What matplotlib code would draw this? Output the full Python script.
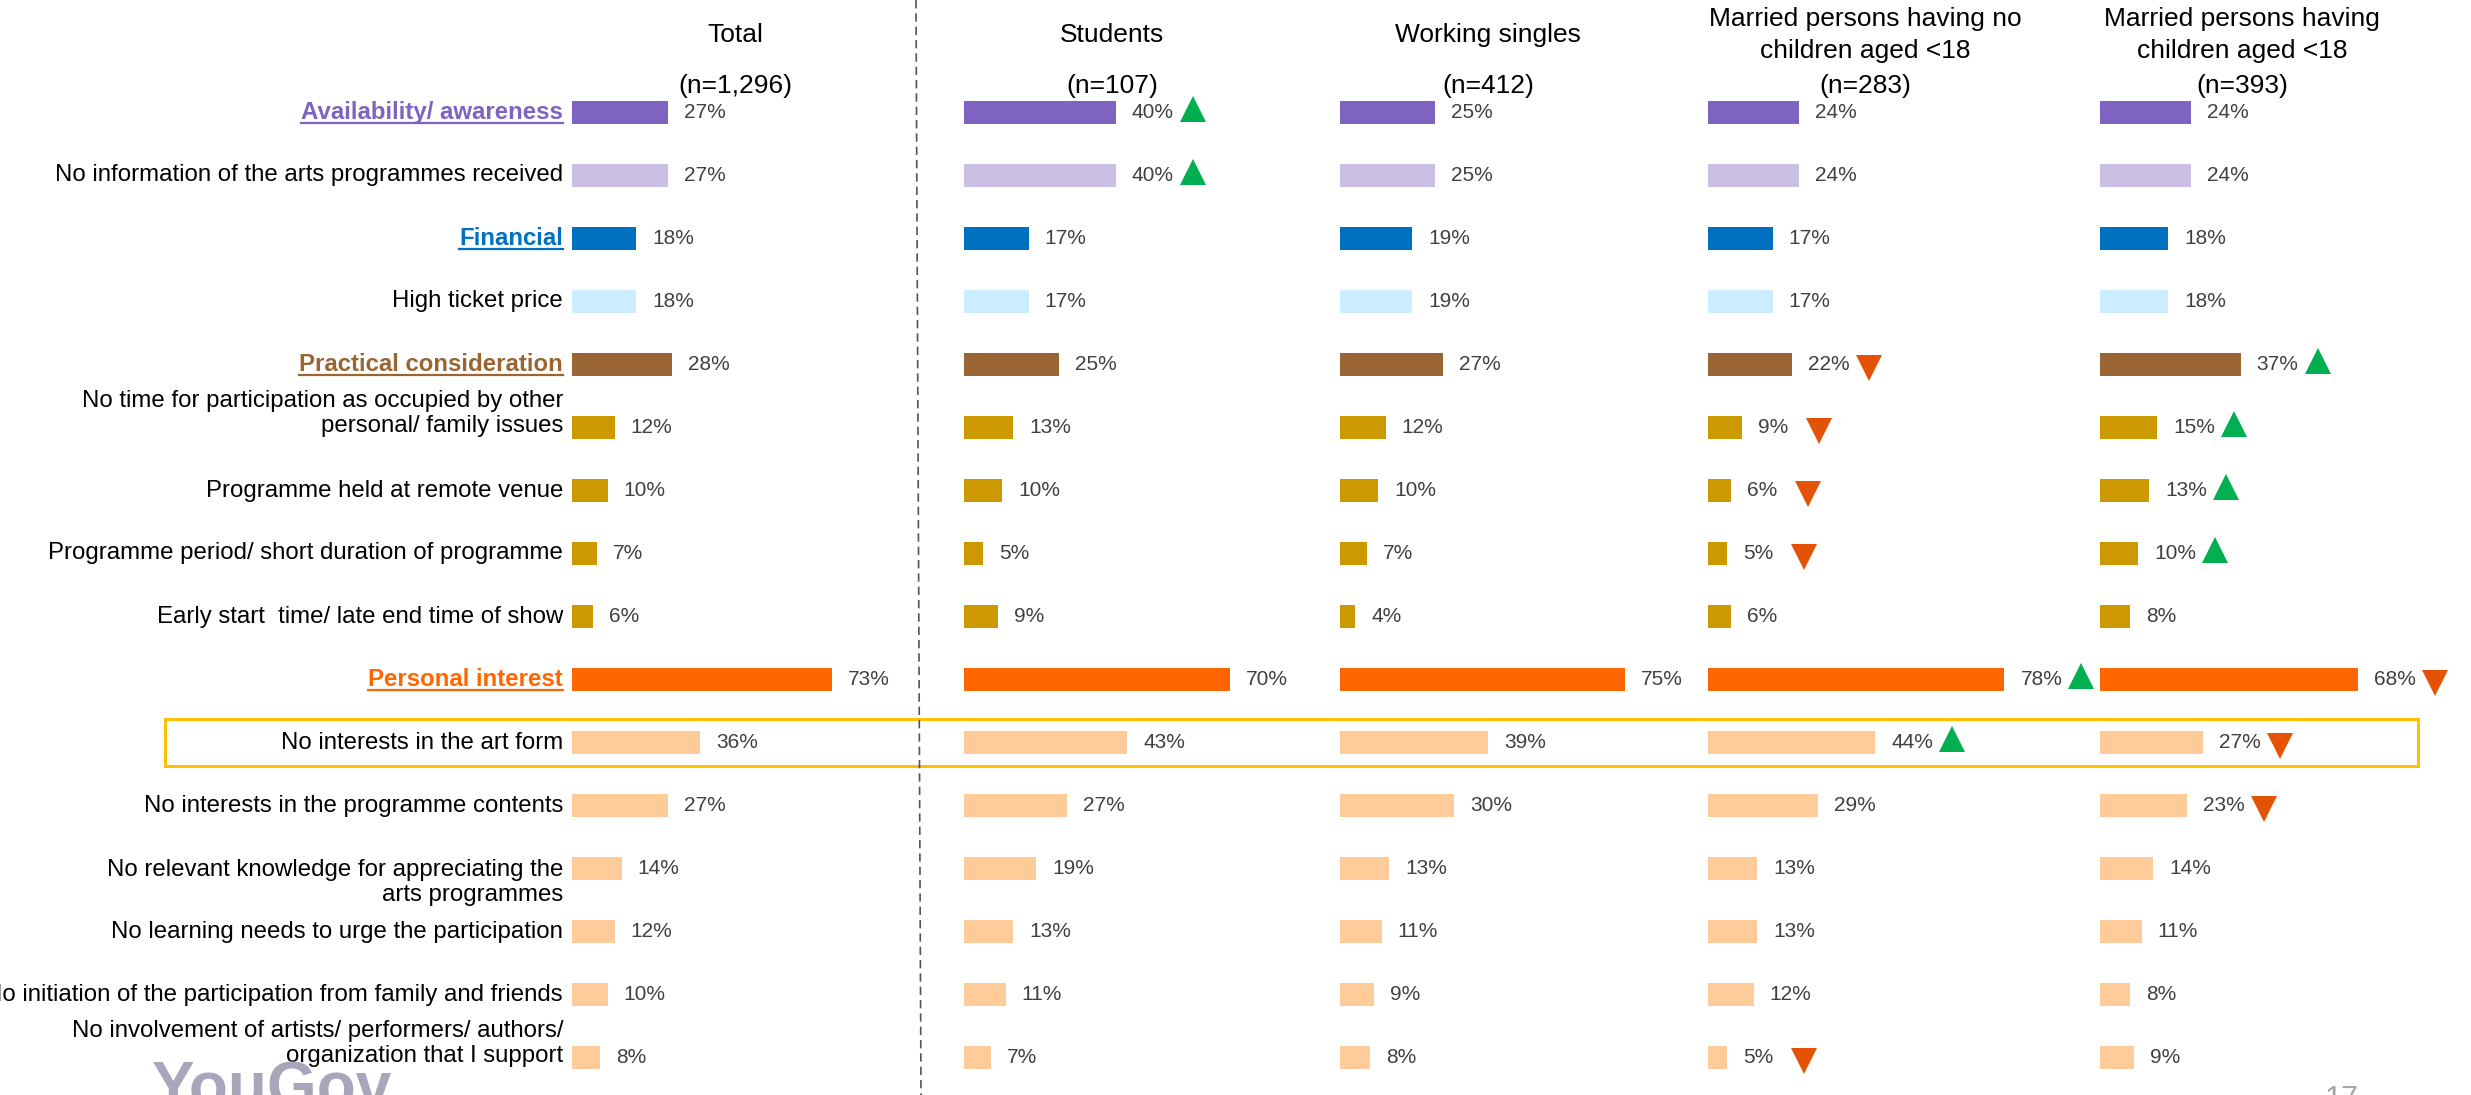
import matplotlib.pyplot as plt
import matplotlib.transforms as mtransforms
from matplotlib.patches import Rectangle
from matplotlib.lines import Line2D

plt.rcParams['font.family'] = ['Liberation Sans', 'DejaVu Sans']

# ---- data ----
labels = [
    "Availability/ awareness",
    "No information of the arts programmes received",
    "Financial",
    "High ticket price",
    "Practical consideration",
    "No time for participation as occupied by other\npersonal/ family issues",
    "Programme held at remote venue",
    "Programme period/ short duration of programme",
    "Early start  time/ late end time of show",
    "Personal interest",
    "No interests in the art form",
    "No interests in the programme contents",
    "No relevant knowledge for appreciating the\narts programmes",
    "No learning needs to urge the participation",
    "No initiation of the participation from family and friends",
    "No involvement of artists/ performers/ authors/\norganization that I support",
]
groups = ["Total", "Students", "Working singles",
          "Married persons having no\nchildren aged <18",
          "Married persons having\nchildren aged <18"]
sample_sizes = ["(n=1,296)", "(n=107)", "(n=412)", "(n=283)", "(n=393)"]

total = [27, 27, 18, 18, 28, 12, 10, 7, 6, 73, 36, 27, 14, 12, 10, 8]
students = [40, 40, 17, 17, 25, 13, 10, 5, 9, 70, 43, 27, 19, 13, 11, 7]
working_singles = [25, 25, 19, 19, 27, 12, 10, 7, 4, 75, 39, 30, 13, 11, 9, 8]
married_no_kids = [24, 24, 17, 17, 22, 9, 6, 5, 6, 78, 44, 29, 13, 13, 12, 5]
married_kids = [24, 24, 18, 18, 37, 15, 13, 10, 8, 68, 27, 23, 14, 11, 8, 9]

# significance markers: (panel, row, direction)
sig_marks = [
    (1, 0, 'up'), (1, 1, 'up'),
    (3, 4, 'down'), (3, 5, 'down'), (3, 6, 'down'), (3, 7, 'down'),
    (3, 9, 'up'), (3, 10, 'up'), (3, 15, 'down'),
    (4, 4, 'up'), (4, 5, 'up'), (4, 6, 'up'), (4, 7, 'up'),
    (4, 9, 'down'), (4, 10, 'down'), (4, 11, 'down'),
]

bar_colors = ['#7E64C0', '#CBC0E4', '#0070C0', '#CCECFF', '#996633',
              '#CC9900', '#CC9900', '#CC9900', '#CC9900', '#FF6600',
              '#FFCC99', '#FFCC99', '#FFCC99', '#FFCC99', '#FFCC99', '#FFCC99']
heading_colors = {0: '#7E64C0', 2: '#0070C0', 4: '#996633', 9: '#FF6600'}

series = [total, students, working_singles, married_no_kids, married_kids]

# ---- layout (pixels) ----
W, H = 2471, 1095
fig = plt.figure(figsize=(W / 100, H / 100), dpi=100)
bar_left = [572, 964, 1340, 1708, 2100]
px_per_pct = [3.56, 3.8, 3.8, 3.8, 3.8]
header_x = [735, 1112, 1488, 1865, 2242]
row0, row_step = 112.5, 63.0
ax_w = 330

rows = list(range(len(labels)))
axes = []
for k, vals in enumerate(series):
    ax = fig.add_axes([bar_left[k] / W, 0, ax_w / W, 1])
    ax.set_xlim(0, ax_w / px_per_pct[k])
    ax.set_ylim((H - row0) / row_step, -row0 / row_step)
    ax.axis('off')
    ax.barh(rows, vals, height=0.36, color=bar_colors)
    lab_tr = mtransforms.offset_copy(ax.transData, fig=fig, x=16, y=0, units='dots')
    for r, v in zip(rows, vals):
        ax.text(v, r, f"{v}%", transform=lab_tr, ha='left', va='center',
                fontsize=15, color='#404040')
    fig.text(header_x[k] / W, 1 - 35 / H, groups[k], ha='center', va='center',
             fontsize=19, color='black', linespacing=1.45)
    fig.text(header_x[k] / W, 1 - 86 / H, sample_sizes[k], ha='center', va='center',
             fontsize=19, color='black')
    axes.append(ax)

# significance triangles
for k, r, d in sig_marks:
    ax = axes[k]
    v = series[k][r]
    tri_tr = mtransforms.offset_copy(ax.transData, fig=fig, x=77, y=0, units='dots')
    if d == 'up':
        ax.plot(v, r - 0.05, marker='^', ms=19, color='#00B050', transform=tri_tr,
                clip_on=False, mew=0)
    else:
        ax.plot(v, r + 0.05, marker='v', ms=19, color='#E35205', transform=tri_tr,
                clip_on=False, mew=0)

# logo and page number behind labels
fig.text(152 / W, 1 - 1108 / H, "YouGov", fontsize=46, fontweight='bold',
         color='#A9A6BC', ha='left', va='baseline', zorder=0)
fig.text(2325 / W, 1 - 1108 / H, "17", fontsize=22, color='#A6A6A6',
         ha='left', va='baseline')

# row labels
ax0 = axes[0]
heading_texts = []
for r, lab in enumerate(labels):
    n_lines = lab.count('\n')
    dy = 0
    if n_lines and r in (5, 15):
        dy = 14
    elif n_lines:
        dy = -14
    tr = mtransforms.offset_copy(ax0.transData, fig=fig, x=-9, y=dy, units='dots')
    if r in heading_colors:
        t = ax0.text(0, r, lab, transform=tr, ha='right', va='center', fontsize=17.3,
                     fontweight='bold', color=heading_colors[r], zorder=5)
        heading_texts.append(t)
    else:
        ax0.text(0, r, lab, transform=tr, ha='right', va='center', fontsize=17.3,
                 color='black', multialignment='right', linespacing=1.15, zorder=5)

# highlight box around "No interests in the art form"
box_tr = mtransforms.blended_transform_factory(fig.transFigure, ax0.transData)
fig.patches.append(Rectangle((165 / W, 10 - 0.37), (2418 - 165) / W, 0.74,
                             transform=box_tr, fill=False, edgecolor='#FFC000',
                             linewidth=2.2))

# dashed divider
fig.add_artist(Line2D([916 / W, 921 / W], [1, 0], color='#555555', lw=1.2,
                      dashes=(5, 3)))

# underline the headings
fig.canvas.draw()
for t in heading_texts:
    bb = t.get_window_extent()
    y = (bb.y0 + 1) / H
    fig.add_artist(Line2D([bb.x0 / W, bb.x1 / W], [y, y], color=t.get_color(), lw=1.6))

fig.savefig('out.png', dpi=100)
